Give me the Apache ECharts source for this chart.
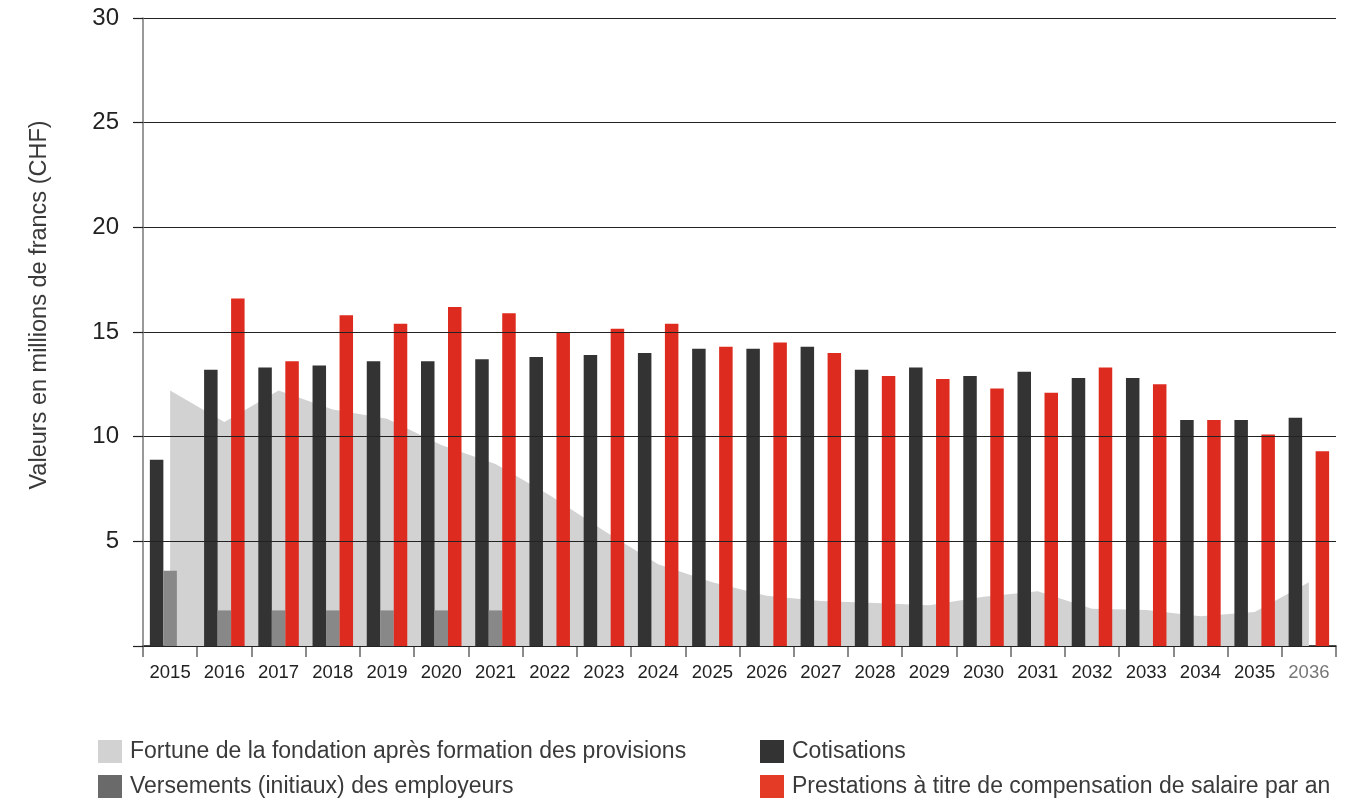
<!DOCTYPE html>
<html>
<head>
<meta charset="utf-8">
<title>Fondation</title>
<script src="https://cdn.jsdelivr.net/npm/echarts@6/dist/echarts.min.js"></script>
<style>
  html, body { margin: 0; padding: 0; background: #fff; }
  #chart { width: 1370px; height: 801px; }
</style>
</head>
<body>
<div id="chart"></div>
<script>
var years = ['2015','2016','2017','2018','2019','2020','2021','2022','2023','2024','2025',
             '2026','2027','2028','2029','2030','2031','2032','2033','2034','2035','2036'];
// Fortune de la fondation (surface)
var fortune = [12.2, 10.7, 12.2, 11.3, 10.85, 9.6, 8.7, 7.2, 5.5, 3.9, 3.05,
               2.4, 2.15, 2.05, 1.95, 2.35, 2.62, 1.78, 1.72, 1.42, 1.62, 3.05];
var versements = [3.6, 1.7, 1.7, 1.7, 1.7, 1.7, 1.7, null, null, null, null,
                  null, null, null, null, null, null, null, null, null, null, null];
var cotisations = [8.9, 13.2, 13.3, 13.4, 13.6, 13.6, 13.7, 13.8, 13.9, 14.0, 14.2,
                   14.2, 14.3, 13.2, 13.3, 12.9, 13.1, 12.8, 12.8, 10.8, 10.8, 10.9];
var prestations = [null, 16.6, 13.6, 15.8, 15.4, 16.2, 15.9, 15.0, 15.15, 15.4, 14.3,
                   14.5, 14.0, 12.9, 12.75, 12.3, 12.1, 13.3, 12.5, 10.8, 10.1, 9.3];
var yTicks = [0, 5, 10, 15, 20, 25, 30];

var chart = echarts.init(document.getElementById('chart'));
var ff = '"Liberation Sans", Arial, sans-serif';

function legendBlock(left, items) {
    return {
        orient: 'vertical',
        left: left, top: 740,
        padding: 0,
        itemWidth: 24, itemHeight: 23, itemGap: 12,
        icon: 'rect',
        textStyle: { fontSize: 23, color: '#3a3a3a', fontFamily: ff, padding: [0, 0, 0, 3] },
        data: items
    };
}

var option = {
    animation: false,
    textStyle: { fontFamily: ff },
    grid: { left: 143, right: 34, top: 18, bottom: 155 },
    legend: [
        legendBlock(98, [
            { name: 'Fortune de la fondation après formation des provisions', itemStyle: { color: '#d2d2d2' } },
            { name: 'Versements (initiaux) des employeurs', itemStyle: { color: '#6a6a6a' } }
        ]),
        legendBlock(760, [
            { name: 'Cotisations', itemStyle: { color: '#333333' } },
            { name: 'Prestations à titre de compensation de salaire par an', itemStyle: { color: '#e33b25' } }
        ])
    ],
    xAxis: {
        type: 'category',
        data: years.map(function (y, i) {
            // la dernière année est grisée
            return i === years.length - 1 ? { value: y, textStyle: { color: '#777' } } : y;
        }),
        axisLine: { lineStyle: { color: '#111', width: 1.5 } },
        axisTick: { show: true, length: 11, lineStyle: { color: '#666', width: 1.5 } },
        axisLabel: { fontSize: 18.5, color: '#222', margin: 17, interval: 0 }
    },
    yAxis: {
        type: 'value',
        min: 0, max: 30, interval: 5,
        z: 5,
        name: 'Valeurs en millions de francs (CHF)',
        nameLocation: 'middle',
        nameRotate: 90,
        nameGap: 91,
        // décalé un peu vers le haut comme dans l'original
        nameTextStyle: { fontSize: 23.5, color: '#3a3a3a', padding: [0, 0, 0, 54] },
        axisLine: { show: true, lineStyle: { color: '#777', width: 1.5 } },
        axisTick: { show: true, length: 10, lineStyle: { color: '#222', width: 1.2 } },
        splitLine: { show: true, lineStyle: { color: '#222', width: 1.2 } },
        axisLabel: {
            fontSize: 24, color: '#222', margin: 24,
            formatter: function (v) { return yTicks.indexOf(v) > 0 ? String(v) : ''; }
        }
    },
    series: [{
        name: 'Fortune de la fondation après formation des provisions',
        type: 'line',
        data: fortune,
        z: 1,
        showSymbol: false,
        symbol: 'none',
        lineStyle: { width: 0 },
        itemStyle: { color: '#d2d2d2' },
        areaStyle: { color: '#d2d2d2', opacity: 1 }
    }, {
        name: 'Cotisations',
        type: 'bar',
        data: cotisations,
        barWidth: 13.5,
        barGap: '0%',
        itemStyle: { color: '#333333' }
    }, {
        name: 'Versements (initiaux) des employeurs',
        type: 'bar',
        data: versements,
        barWidth: 13.5,
        barGap: '0%',
        itemStyle: { color: '#888888' }
    }, {
        name: 'Prestations à titre de compensation de salaire par an',
        type: 'bar',
        data: prestations,
        barWidth: 13.5,
        barGap: '0%',
        itemStyle: { color: '#dd2c1f' }
    }]
};

chart.setOption(option);
</script>
</body>
</html>
